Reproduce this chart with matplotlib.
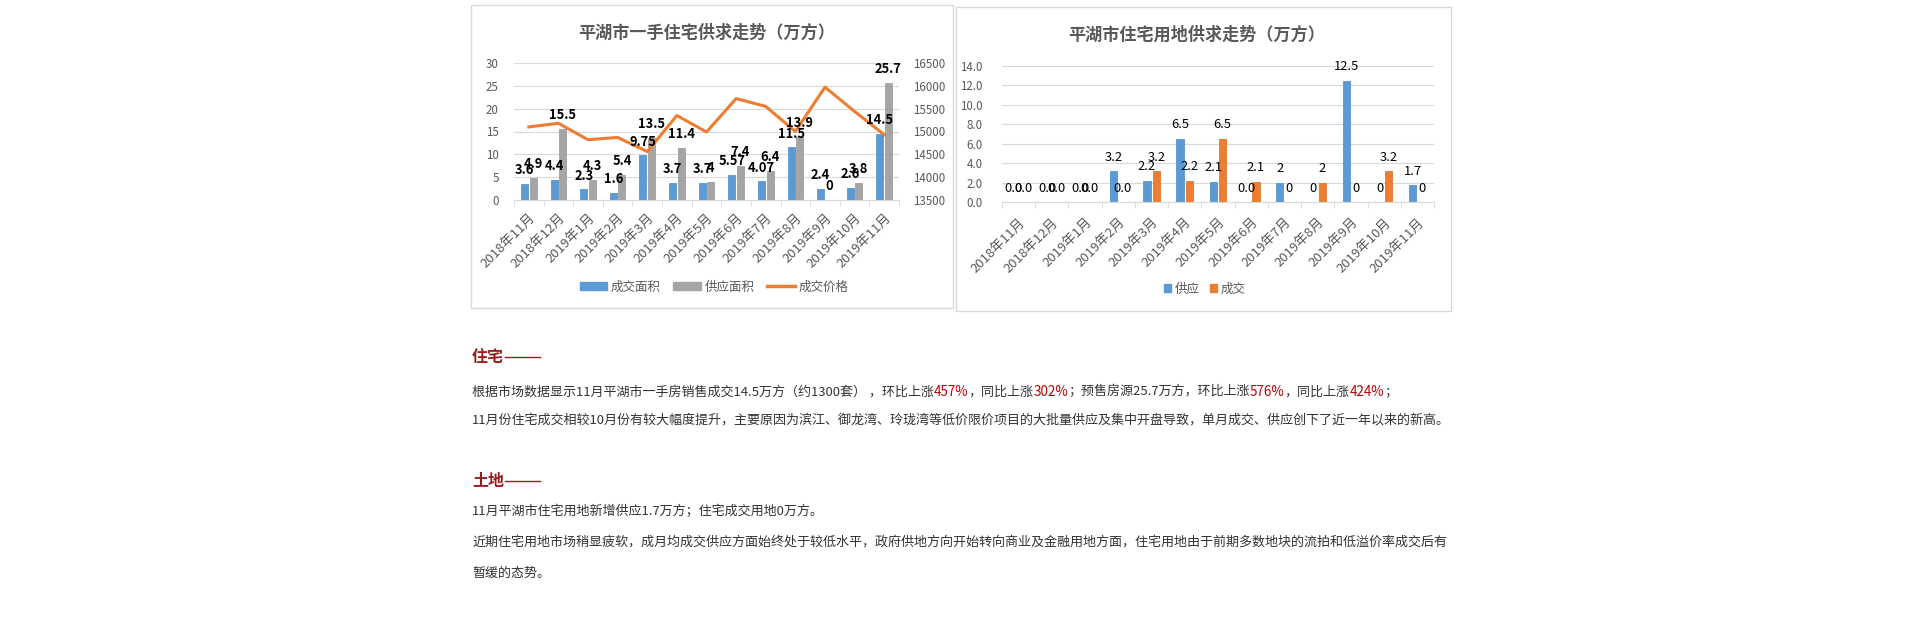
import matplotlib
matplotlib.use('Agg')
import matplotlib.pyplot as plt
from matplotlib.patches import Rectangle, Patch
from matplotlib.lines import Line2D
import numpy as np

plt.rcParams['font.family'] = ['Noto Sans CJK SC', 'DejaVu Sans']

# Datos
meses = ['2018年11月', '2018年12月', '2019年1月', '2019年2月', '2019年3月', '2019年4月',
         '2019年5月', '2019年6月', '2019年7月', '2019年8月', '2019年9月', '2019年10月', '2019年11月']

# grafico 1: vivienda nueva (万方) y precio
cj_area = [3.6, 4.4, 2.3, 1.6, 9.75, 3.7, 3.7, 5.57, 4.07, 11.5, 2.4, 2.6, 14.5]
gy_area = [4.9, 15.5, 4.3, 5.4, 13.5, 11.4, 4, 7.4, 6.4, 13.9, 0, 3.8, 25.7]
cj_precio = [15100, 15180, 14820, 14870, 14560, 15350, 14990, 15720, 15550, 15000, 15970, 15440, 14930]

# grafico 2: suelo residencial (万方)
td_gy = [0, 0, 0, 3.2, 2.2, 6.5, 2.1, 0, 2, 0, 12.5, 0, 1.7]
td_cj = [0, 0, 0, 0, 3.2, 2.2, 6.5, 2.1, 0, 2, 0, 3.2, 0]
td_gy_txt = ['0.0', '0.0', '0.0', '3.2', '2.2', '6.5', '2.1', '0.0', '2', '0', '12.5', '0', '1.7']
td_cj_txt = ['0.0', '0.0', '0.0', '0.0', '3.2', '2.2', '6.5', '2.1', '0', '2', '0', '3.2', '0']

AZUL = '#5B9BD5'
GRIS = '#A5A5A5'
NARANJA = '#ED7D31'
TXT = '#595959'
REJILLA = '#D9D9D9'

W, H = 1920, 630
fig = plt.figure(figsize=(W / 100, H / 100), dpi=100)


def fx(px):
    return px / W


def fy(py):
    return 1 - py / H


def caja(x0, y0, x1, y1):
    fig.patches.append(Rectangle((fx(x0), fy(y1)), (x1 - x0) / W, (y1 - y0) / H,
                                 transform=fig.transFigure, fill=False, ec=REJILLA, lw=1))


def estilo_ejes(ax, pad_x):
    for s in ['top', 'left', 'right']:
        ax.spines[s].set_visible(False)
    ax.spines['bottom'].set_color(REJILLA)
    ax.yaxis.grid(True, color=REJILLA, lw=0.8)
    ax.set_axisbelow(True)
    x = np.arange(len(meses))
    ax.set_xlim(-0.5, len(meses) - 0.5)
    ax.set_xticks(x)
    ax.set_xticklabels(meses, rotation=45, ha='right', va='top', rotation_mode='anchor',
                       fontsize=9.5, color=TXT)
    ax.set_xticks(np.arange(-0.5, len(meses), 1), minor=True)
    ax.tick_params(axis='x', which='major', length=0, pad=pad_x)
    ax.tick_params(axis='x', which='minor', length=4, color=REJILLA)
    ax.tick_params(axis='y', length=0, labelsize=8.3, labelcolor=TXT)


x = np.arange(len(meses))

# ---- Grafico 1 ----
caja(471, 5, 953, 308)
ax1 = fig.add_axes([fx(514), fy(200), 385 / W, 137 / H])
ax1.bar(x - 0.145, cj_area, 0.235, color=AZUL, ec='#4A8BC8', lw=0.5)
ax1.bar(x + 0.145, gy_area, 0.235, color=GRIS, ec='#979797', lw=0.5)
ax1.set_ylim(0, 30)
ax1.set_yticks(range(0, 31, 5))
estilo_ejes(ax1, 8)
ax1.tick_params(axis='y', pad=11)

ax1b = ax1.twinx()
ax1b.plot(x, cj_precio, color=NARANJA, lw=2.2)
ax1b.set_ylim(13500, 16500)
ax1b.set_yticks(range(13500, 16501, 500))
for s in ['top', 'left', 'right', 'bottom']:
    ax1b.spines[s].set_visible(False)
ax1b.tick_params(axis='y', length=0, labelsize=8.3, labelcolor=TXT, pad=10)

for i in range(len(meses)):
    ax1b.annotate('{:g}'.format(cj_area[i]), xy=(x[i] - 0.145, cj_area[i]), xycoords=ax1.transData,
                  xytext=(0, 10), textcoords='offset points', ha='center', va='center',
                  fontsize=9.3, weight='bold', color='black', zorder=5)
    ax1b.annotate('{:g}'.format(gy_area[i]), xy=(x[i] + 0.145, gy_area[i]), xycoords=ax1.transData,
                  xytext=(0, 10), textcoords='offset points', ha='center', va='center',
                  fontsize=9.3, weight='bold', color='black', zorder=5)

fig.text(fx(707), fy(33), '平湖市一手住宅供求走势（万方）', ha='center', va='center',
         fontsize=12.3, weight='bold', color=TXT)
h1 = [Patch(color=AZUL), Patch(color=GRIS), Line2D([0], [0], color=NARANJA, lw=2.5)]
fig.legend(h1, ['成交面积', '供应面积', '成交价格'], loc='center', bbox_to_anchor=(fx(714), fy(287)),
           ncol=3, frameon=False, fontsize=9, labelcolor=TXT, handlelength=2.2, handleheight=0.5,
           handletextpad=0.3, columnspacing=1.0)

# ---- Grafico 2 ----
caja(956, 7, 1451, 311)
ax2 = fig.add_axes([fx(1002), fy(202), 432 / W, 136 / H])
ax2.bar(x - 0.14, td_gy, 0.22, color=AZUL, ec='#4A8BC8', lw=0.5)
ax2.bar(x + 0.14, td_cj, 0.22, color=NARANJA, ec='#D96B22', lw=0.5)
ax2.set_ylim(0, 14)
ax2.set_yticks(np.arange(0, 14.1, 2))
ax2.set_yticklabels(['{:.1f}'.format(v) for v in np.arange(0, 14.1, 2)])
estilo_ejes(ax2, 10)
ax2.tick_params(axis='y', pad=14)

for i in range(len(meses)):
    ax2.annotate(td_gy_txt[i], xy=(x[i] - 0.14, td_gy[i]), xytext=(0, 10), textcoords='offset points',
                 ha='center', va='center', fontsize=9.3, color='black')
    ax2.annotate(td_cj_txt[i], xy=(x[i] + 0.14, td_cj[i]), xytext=(0, 10), textcoords='offset points',
                 ha='center', va='center', fontsize=9.3, color='black')

fig.text(fx(1197), fy(35), '平湖市住宅用地供求走势（万方）', ha='center', va='center',
         fontsize=12.3, weight='bold', color=TXT)
h2 = [Patch(color=AZUL), Patch(color=NARANJA)]
fig.legend(h2, ['供应', '成交'], loc='center', bbox_to_anchor=(fx(1205), fy(289)),
           ncol=2, frameon=False, fontsize=9, labelcolor=TXT, handlelength=0.55, handleheight=0.55,
           handletextpad=0.3, columnspacing=0.8)

# ---- Texto ----
ROJO = '#C00000'
TITULO = '#9A1A1E'
NEGRO = '#333333'
rend = fig.canvas.get_renderer()


def linea(x_px, y_px, partes):
    xx = x_px
    for p in partes:
        txt, col = p[0], p[1]
        kw = dict(fontsize=9.4)
        if len(p) > 2:
            kw.update(p[2])
        t = fig.text(fx(xx), fy(y_px), txt, color=col, ha='left', va='center', **kw)
        xx += t.get_window_extent(rend).width
    return xx


def cabecera(x_px, y_px, txt):
    # titulo de seccion seguido de una raya fina
    x_fin = linea(x_px, y_px, [(txt, TITULO, dict(fontsize=11.5, weight='bold'))])
    fig.add_artist(Line2D([fx(x_fin + 1), fx(x_fin + 36)], [fy(y_px), fy(y_px)],
                          transform=fig.transFigure, color=TITULO, lw=1))


PCT = dict(fontsize=9.7)

cabecera(472, 357, '住宅')
linea(472, 392, [('根据市场数据显示11月平湖市一手房销售成交14.5万方（约1300套） ，环比上涨', NEGRO),
                 ('457%', ROJO, PCT), ('，同比上涨', NEGRO), ('302%', ROJO, PCT),
                 ('；预售房源25.7万方，环比上涨', NEGRO), ('576%', ROJO, PCT),
                 ('，同比上涨', NEGRO), ('424%', ROJO, PCT), ('；', NEGRO)])
linea(472, 420, [('11月份住宅成交相较10月份有较大幅度提升，主要原因为滨江、御龙湾、玲珑湾等低价限价项目的大批量供应及集中开盘导致，单月成交、供应创下了近一年以来的新高。', NEGRO)])
cabecera(472, 481, '土地')
linea(472, 512, [('11月平湖市住宅用地新增供应1.7万方；住宅成交用地0万方。', NEGRO)])
linea(472, 542, [('近期住宅用地市场稍显疲软，成月均成交供应方面始终处于较低水平，政府供地方向开始转向商业及金融用地方面，住宅用地由于前期多数地块的流拍和低溢价率成交后有', NEGRO)])
linea(472, 573, [('暂缓的态势。', NEGRO)])

fig.savefig('out.png', dpi=100)
